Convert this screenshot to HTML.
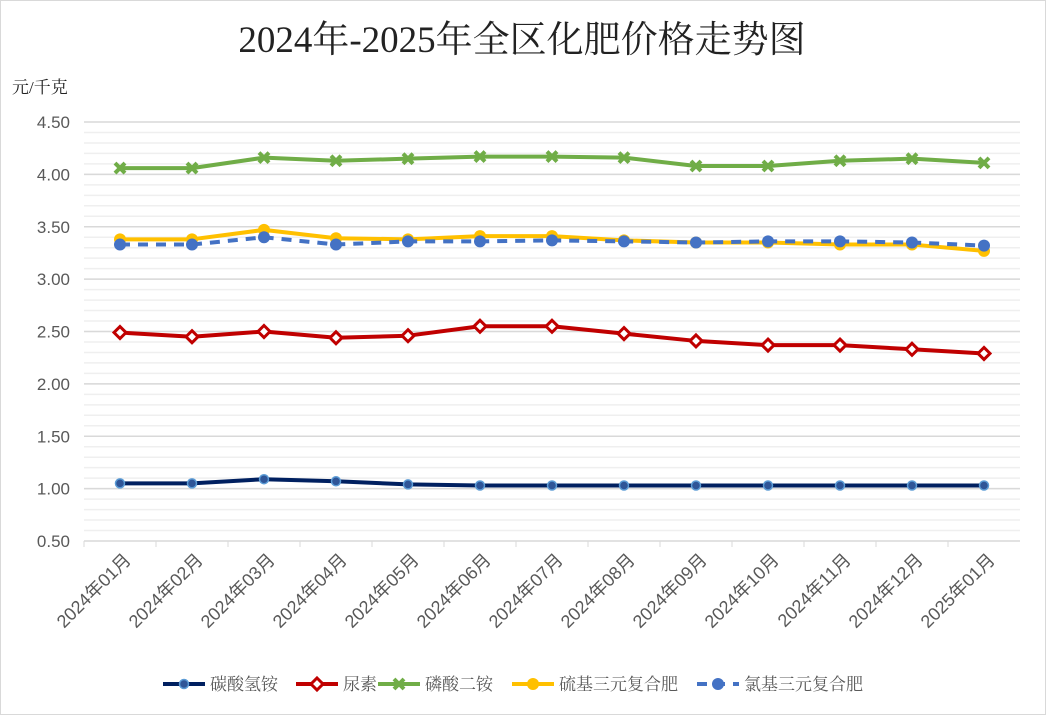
<!DOCTYPE html>
<html><head><meta charset="utf-8"><style>
body{margin:0;background:#fff;}
svg text{font-family:"Liberation Sans","Noto Sans CJK SC",sans-serif;}
</style></head><body>
<svg id="chart" width="1046" height="715" xmlns="http://www.w3.org/2000/svg">
<rect x="0.5" y="0.5" width="1045" height="714" fill="#fff" stroke="#d9d9d9"/>
<text x="522" y="52" text-anchor="middle" font-size="37" fill="#222" style="font-family:'Liberation Serif','Noto Serif CJK SC',serif">2024年-2025年全区化肥价格走势图</text>
<text x="12" y="93" font-size="17" fill="#222" style="font-family:'Liberation Serif','Noto Serif CJK SC',serif">元/千克</text>
<g id="grid"></g><g id="axes"></g><g id="series"></g><g id="legend"></g>
</svg>
<script>
const categories=["2024年01月","2024年02月","2024年03月","2024年04月","2024年05月","2024年06月","2024年07月","2024年08月","2024年09月","2024年10月","2024年11月","2024年12月","2025年01月"];
const yTicks=["0.50","1.00","1.50","2.00","2.50","3.00","3.50","4.00","4.50"];
const seriesNames=["碳酸氢铵","尿素","磷酸二铵","硫基三元复合肥","氯基三元复合肥"];
const sNavy=[1.05,1.05,1.09,1.07,1.04,1.03,1.03,1.03,1.03,1.03,1.03,1.03,1.03];
const sRed=[2.49,2.45,2.50,2.44,2.46,2.55,2.55,2.48,2.41,2.37,2.37,2.33,2.29];
const sGreen=[4.06,4.06,4.16,4.13,4.15,4.17,4.17,4.16,4.08,4.08,4.13,4.15,4.11];
const sYellow=[3.38,3.38,3.47,3.39,3.38,3.41,3.41,3.37,3.35,3.35,3.33,3.33,3.27];
const sBlue=[3.33,3.33,3.40,3.33,3.36,3.36,3.37,3.36,3.35,3.36,3.36,3.35,3.32];
const NS="http://www.w3.org/2000/svg";
const X0=84,X1=1020,Y0=541,Y1=122,VMIN=0.5,VMAX=4.5;
const bw=(X1-X0)/categories.length;
const xs=i=>X0+bw*(i+0.5);
const ys=v=>Y0-(v-VMIN)/(VMAX-VMIN)*(Y0-Y1);
function mk(t,a,p){const e=document.createElementNS(NS,t);for(const k in a)e.setAttribute(k,a[k]);p.appendChild(e);return e;}
const grid=document.getElementById('grid'),axes=document.getElementById('axes'),ser=document.getElementById('series'),leg=document.getElementById('legend');
for(let v=0.6;v<4.5;v+=0.1){const y=ys(v);const l=mk('line',{x1:X0,x2:X1,y1:y,y2:y,stroke:'#efefef','stroke-width':1.5},grid);

}
yTicks.forEach(t=>{const y=ys(parseFloat(t));
const l=mk('line',{x1:X0,x2:X1,y1:y,y2:y,stroke:'#d9d9d9','stroke-width':1.5},grid);


const tx=mk('text',{x:70,y:y+6,'text-anchor':'end','font-size':17,fill:'#595959'},axes);tx.textContent=t;

});
categories.forEach((c,i)=>{const x=X0+bw*i;
const tk=mk('line',{x1:x,x2:x,y1:Y0,y2:Y0+6,stroke:'#d9d9d9'},axes);


const ax=xs(i)+12,ay=Y0+20;
const tx=mk('text',{x:ax,y:ay,'text-anchor':'end','font-size':18,fill:'#595959',transform:`rotate(-45 ${ax} ${ay})`},axes);tx.textContent=c;

});
const styles=[{d:sNavy,c:'#002060',m:'circ',mc:'#2f5597',ms:'#5b9bd5'},{d:sRed,c:'#c00000',m:'diam'},{d:sGreen,c:'#70ad47',m:'x'},{d:sYellow,c:'#ffc000',m:'dot'},{d:sBlue,c:'#4472c4',m:'dot',dash:'10 8'}];
function marker(s,x,y,p){let e;
if(s.m==='circ')e=mk('circle',{cx:x,cy:y,r:4.5,fill:s.mc,stroke:s.ms,'stroke-width':1.5},p);
else if(s.m==='diam')e=mk('path',{d:`M${x} ${y-6}L${x+6} ${y}L${x} ${y+6}L${x-6} ${y}Z`,fill:'#fff',stroke:s.c,'stroke-width':3},p);
else if(s.m==='x')e=mk('path',{d:`M${x-5} ${y-5}L${x+5} ${y+5}M${x+5} ${y-5}L${x-5} ${y+5}`,stroke:s.c,'stroke-width':4},p);
else e=mk('circle',{cx:x,cy:y,r:6,fill:s.c},p);
return e;}
const order=[2,3,4,1,0];
order.forEach(k=>{const s=styles[k];const g=mk('g',{},ser);


const pl=mk('polyline',{points:s.d.map((v,i)=>xs(i)+','+ys(v)).join(' '),fill:'none',stroke:s.c,'stroke-width':4,'stroke-dasharray':s.dash||'none','stroke-linejoin':'round'},g);


s.d.forEach((v,i)=>{const m=marker(s,xs(i),ys(v),g);

});});
const lx=[163,296,378,512,697];
styles.forEach((s,k)=>{const g=mk('g',{},leg);


const x=lx[k],y=684;
mk('line',{x1:x,x2:x+42,y1:y,y2:y,stroke:s.c,'stroke-width':4,'stroke-dasharray':s.dash||'none'},g);
marker(s,x+21,y,g);
const t=mk('text',{x:x+47,y:y+6,'font-size':17,fill:'#595959',style:"font-family:'Liberation Serif','Noto Serif CJK SC',serif"},g);t.textContent=seriesNames[k];});
</script>
</body></html>
